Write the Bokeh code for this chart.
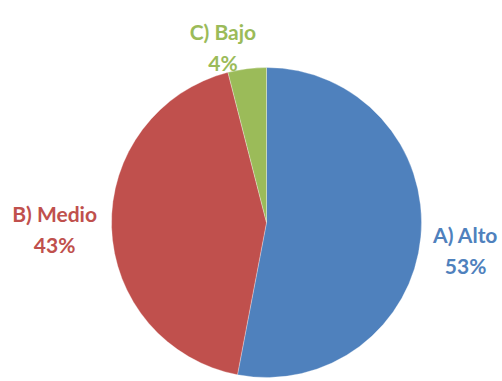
import math
from bokeh.plotting import figure
from bokeh.models import ColumnDataSource
from bokeh.core.properties import value
from bokeh.embed import file_html
from bokeh.resources import INLINE

# data
categories = ["A) Alto", "B) Medio", "C) Bajo"]
shares = [53, 43, 4]
colors = ["#4F81BD", "#C0504D", "#9BBB59"]
label_colors = ["#4F81BD", "#C0504D", "#9BBB59"]

W, H = 502, 381
p = figure(width=W, height=H, x_range=(0, W), y_range=(0, H),
           output_backend="svg", toolbar_location=None, min_border=0)
p.axis.visible = False
p.grid.visible = False
p.outline_line_color = None
p.background_fill_color = "white"

cx, cy, R = 266, 159, 155
total = sum(shares)
starts, ends, mids = [], [], []
cum = 0.0
for s in shares:
    a0 = math.pi / 2 - 2 * math.pi * (cum + s) / total
    a1 = math.pi / 2 - 2 * math.pi * cum / total
    starts.append(a0)
    ends.append(a1)
    mids.append((a0 + a1) / 2)
    cum += s

src = ColumnDataSource(dict(start=starts, end=ends, color=colors))
p.wedge(x=cx, y=cy, radius=R, start_angle="start", end_angle="end",
        fill_color="color", line_color="white", line_width=0.3, source=src)

# label layout (radius along mid-angle + small nudges)
label_r = [200, 212, 180]
nudge_x = [0, 0, -21]
nudge_y = [-9, 0, -3]
line_gap = 31
lx, ly1, ly2, pct = [], [], [], []
for i, s in enumerate(shares):
    x = cx + label_r[i] * math.cos(mids[i]) + nudge_x[i]
    y = cy + label_r[i] * math.sin(mids[i]) + nudge_y[i]
    lx.append(x)
    ly1.append(y + line_gap / 2)
    ly2.append(y - line_gap / 2)
    pct.append(f"{round(100 * s / total)}%")

lsrc = ColumnDataSource(dict(x=lx, y1=ly1, y2=ly2, name=categories, pct=pct, c=label_colors))
for col in ("name", "pct"):
    p.text(x="x", y="y1" if col == "name" else "y2", text=col, source=lsrc,
           text_color="c", text_font=value("Lato"), text_font_style="bold",
           text_font_size="21px", text_align="center", text_baseline="middle")

open("out.html", "w").write(file_html(p, INLINE))
